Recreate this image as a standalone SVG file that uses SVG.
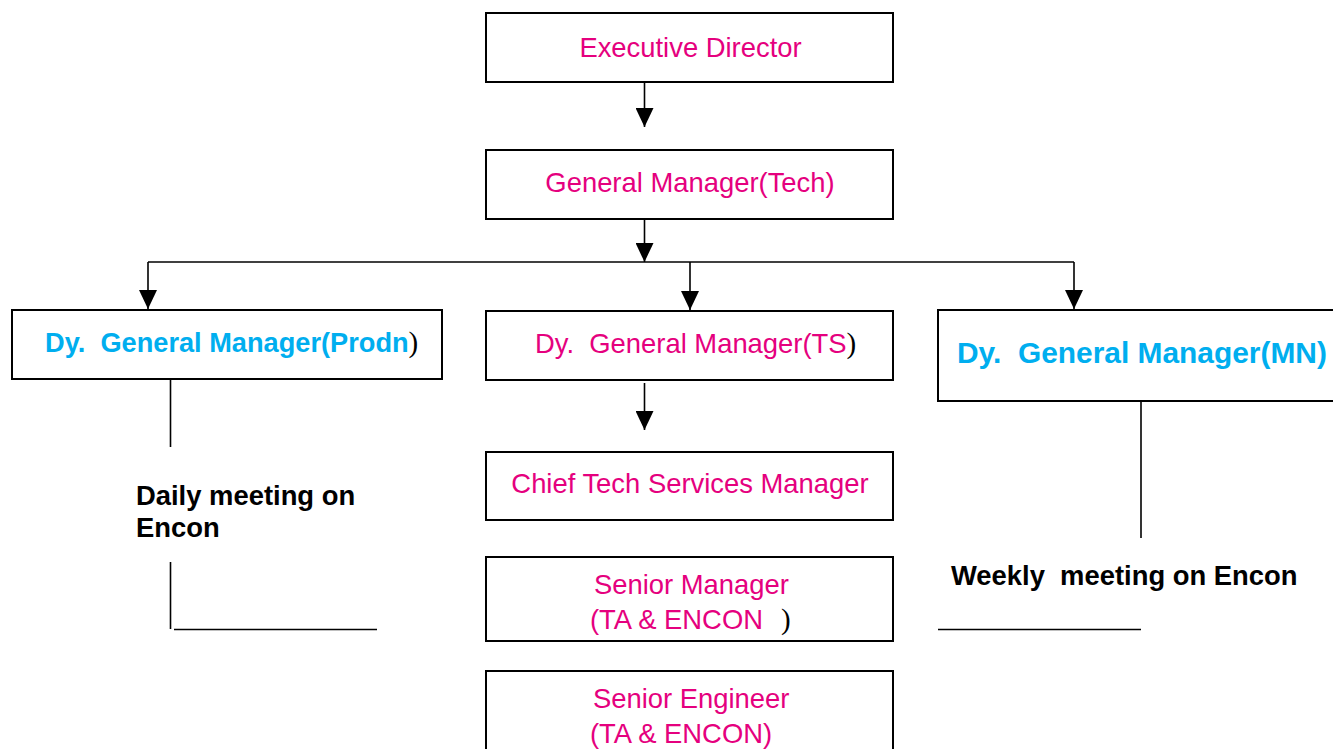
<svg xmlns="http://www.w3.org/2000/svg" width="1333" height="749" viewBox="0 0 1333 749">
  <style>
    .box { fill: #ffffff; stroke: #000000; stroke-width: 2; }
    .line { fill: none; stroke: #000000; stroke-width: 1.6; }
    .pink { fill: #e5007e; font-family: "Liberation Sans", Arial, sans-serif; font-size: 27.4px; white-space: pre; }
    .blue { fill: #00aeef; font-family: "Liberation Sans", Arial, sans-serif; font-size: 27.2px; font-weight: bold; white-space: pre; }
    .note { fill: #000000; font-family: "Liberation Sans", Arial, sans-serif; font-size: 27.4px; font-weight: bold; white-space: pre; }
    .paren { fill: #000000; font-family: "Liberation Serif", "Times New Roman", serif; font-weight: normal; font-size: 29px; }
  </style>
  <defs>
    <marker id="arrow" viewBox="0 0 19 18" refX="19" refY="9" markerWidth="19" markerHeight="18" markerUnits="userSpaceOnUse" orient="auto">
      <path d="M0,0 L19,9 L0,18 Z" fill="#000000"/>
    </marker>
  </defs>
  <rect width="1333" height="749" fill="#ffffff"/>

  <!-- connectors -->
  <g id="connectors">
    <line class="line" x1="644.5" y1="82" x2="644.5" y2="127" marker-end="url(#arrow)"/>
    <line class="line" x1="644.5" y1="219" x2="644.5" y2="262" marker-end="url(#arrow)"/>
    <line class="line" x1="148" y1="262" x2="1074" y2="262" stroke-width="2"/>
    <line class="line" x1="148" y1="262" x2="148" y2="309" marker-end="url(#arrow)"/>
    <line class="line" x1="690" y1="262" x2="690" y2="310" marker-end="url(#arrow)"/>
    <line class="line" x1="1074" y1="262" x2="1074" y2="309" marker-end="url(#arrow)"/>
    <line class="line" x1="644.5" y1="383" x2="644.5" y2="430" marker-end="url(#arrow)"/>
    <!-- daily meeting bracket -->
    <line class="line" x1="170.5" y1="379" x2="170.5" y2="447"/>
    <line class="line" x1="170.5" y1="562" x2="170.5" y2="629"/>
    <line class="line" x1="174" y1="629.5" x2="377" y2="629.5"/>
    <!-- weekly meeting bracket -->
    <line class="line" x1="1141" y1="401" x2="1141" y2="538"/>
    <line class="line" x1="938" y1="629.5" x2="1141" y2="629.5"/>
  </g>

  <g id="executive-director">
    <rect class="box" x="486" y="13" width="407" height="69"/>
    <text class="pink" x="690.5" y="57" text-anchor="middle">Executive Director</text>
  </g>

  <g id="gm-tech">
    <rect class="box" x="486" y="150" width="407" height="69"/>
    <text class="pink" x="690" y="192" text-anchor="middle">General Manager(Tech)</text>
  </g>

  <g id="dgm-prodn">
    <rect class="box" x="12" y="310" width="430" height="69"/>
    <text class="blue" x="45" y="352">Dy.  General Manager(Prodn<tspan class="paren">)</tspan></text>
  </g>

  <g id="dgm-ts">
    <rect class="box" x="486" y="311" width="407" height="69"/>
    <text class="pink" x="535" y="353">Dy.  General Manager(TS<tspan class="paren">)</tspan></text>
  </g>

  <g id="dgm-mn">
    <rect class="box" x="938" y="310" width="410" height="91"/>
    <text class="blue" x="957" y="363" style="font-size:29.9px">Dy.  General Manager(MN)</text>
  </g>

  <g id="chief-tech-services">
    <rect class="box" x="486" y="452" width="407" height="68"/>
    <text class="pink" x="690" y="493" text-anchor="middle">Chief Tech Services Manager</text>
  </g>

  <g id="senior-manager">
    <rect class="box" x="486" y="557" width="407" height="84"/>
    <text class="pink" x="594" y="594">Senior Manager</text>
    <text class="pink" x="590" y="629">(TA &amp; ENCON<tspan class="paren" x="781">)</tspan></text>
  </g>

  <g id="senior-engineer">
    <rect class="box" x="486" y="671" width="407" height="90"/>
    <text class="pink" x="593" y="708">Senior Engineer</text>
    <text class="pink" x="590" y="743">(TA &amp; ENCON)</text>
  </g>

  <g id="daily-meeting">
    <text class="note" x="136" y="505">Daily meeting on</text>
    <text class="note" x="136" y="537">Encon</text>
  </g>

  <g id="weekly-meeting">
    <text class="note" x="951" y="585">Weekly  meeting on Encon</text>
  </g>
</svg>
